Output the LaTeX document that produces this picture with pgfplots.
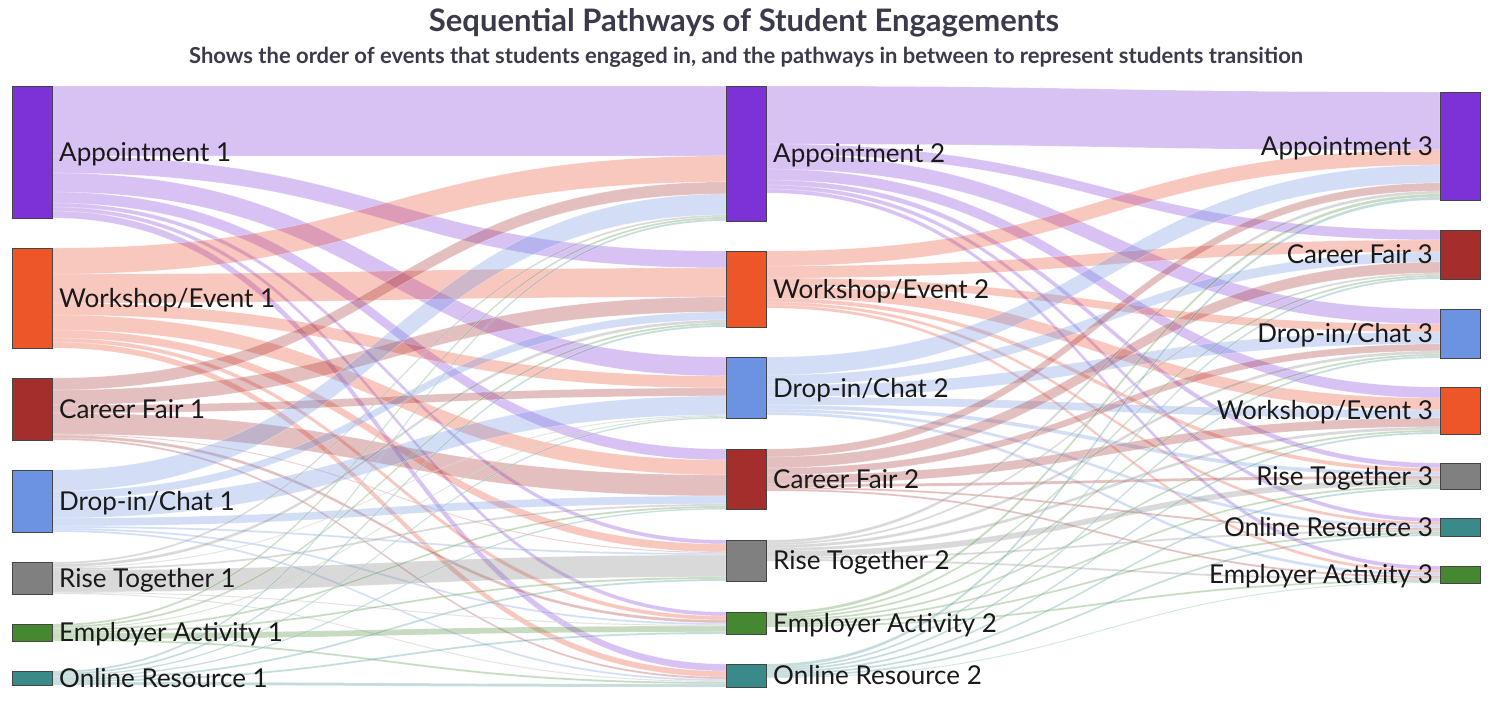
\documentclass[border=0pt]{standalone}
\usepackage{pgfplots}
\pgfplotsset{compat=1.18}
\usepackage{pgfplotstable}
\usepackage{fontspec}
\setmainfont{Lato}
\definecolor{appt}{HTML}{7D32D8}
\definecolor{work}{HTML}{EC5628}
\definecolor{worklink}{HTML}{E84428}
\definecolor{career}{HTML}{A32E2B}
\definecolor{dropin}{HTML}{6C93E2}
\definecolor{rise}{HTML}{808080}
\definecolor{employer}{HTML}{468832}
\definecolor{online}{HTML}{3A8A8A}
\definecolor{nodeline}{HTML}{444444}
\definecolor{titlecol}{HTML}{3A3A4A}

% ---- plot handler: groups of 4 points -> sankey band (horizontal-tangent beziers)
\makeatletter
\def\pgfplothandlersankey{%
  \def\pgf@plotstreamstart{%
    \global\let\pgf@plotstreampoint=\sk@pA
    \global\let\pgf@plotstreamspecial=\pgfutil@gobble
    \global\let\pgf@plotstreamend=\relax
  }%
}
\def\sk@pA#1{%
  \pgf@process{#1}%
  \xdef\sk@ax{\the\pgf@x}\xdef\sk@ay{\the\pgf@y}%
  \pgfpathmoveto{\pgfqpoint{\sk@ax}{\sk@ay}}%
  \global\let\pgf@plotstreampoint=\sk@pB}
\def\sk@pB#1{%
  \pgf@process{#1}%
  \xdef\sk@bx{\the\pgf@x}\xdef\sk@by{\the\pgf@y}%
  \pgf@xa=\sk@ax\relax\advance\pgf@xa by\sk@bx\relax\pgf@xa=0.5\pgf@xa
  \xdef\sk@mx{\the\pgf@xa}%
  \pgfpathcurveto{\pgfqpoint{\sk@mx}{\sk@ay}}{\pgfqpoint{\sk@mx}{\sk@by}}{\pgfqpoint{\sk@bx}{\sk@by}}%
  \global\let\pgf@plotstreampoint=\sk@pC}
\def\sk@pC#1{%
  \pgf@process{#1}%
  \xdef\sk@cy{\the\pgf@y}%
  \pgfpathlineto{\pgfqpoint{\sk@bx}{\sk@cy}}%
  \global\let\pgf@plotstreampoint=\sk@pD}
\def\sk@pD#1{%
  \pgf@process{#1}%
  \xdef\sk@dy{\the\pgf@y}%
  \pgfpathcurveto{\pgfqpoint{\sk@mx}{\sk@cy}}{\pgfqpoint{\sk@mx}{\sk@dy}}{\pgfqpoint{\sk@ax}{\sk@dy}}%
  \pgfpathclose
  \global\let\pgf@plotstreampoint=\sk@pA}
\tikzset{sankey/.code={\let\tikz@plot@handler=\pgfplothandlersankey}}
\makeatother

% ---- flows, stage 1: rows Appointment1, Workshop1, CareerFair1, Drop-in1, Rise1, Employer1, Online1
%      columns Appointment2, Workshop2, Drop-in2, CareerFair2, Rise2, Employer2, Online2
\pgfplotstableread{
v0 v1 v2 v3 v4 v5 v6
70 17 19 11 4 4 7
26 29 12 15 8 4 6
12 15 8 21 1 3 2
21 8 19 8 2 2 2
2 3 1 2 22 1 1
2 2 1 2 2 6 2
2 2 1.5 1.5 2 2 3
}\stageone
% ---- flows, stage 2: rows Appointment2, Workshop2, Drop-in2, CareerFair2, Rise2, Employer2, Online2
%      columns Appointment3, CareerFair3, Drop-in3, Workshop3, Rise3, Online3, Employer3
\pgfplotstableread{
v0 v1 v2 v3 v4 v5 v6
58 10 15 11 5 4 4
15 12 8 12 4 3 3
18 10 12 8 4 3 3
8 11 7 9 3 2 2
3 2 3 3 6 2 2
3 2 2 2 2 2 2
3 2 2 2 2 2 1
}\stagetwo
\def\lefttops{{86,248,378,470,562,624,671}}
\def\midtops{{86,251,357,449,540,612,664}}
\def\righttops{{92,230,309,387,463,518,566}}

% stacks the links of one stage into 4-point groups, one list per source node
\newcommand\buildlinks[6]{%
  \foreach \j in {0,...,6}{\pgfmathsetmacro\skT{#3[\j]}\expandafter\xdef\csname sktg\j\endcsname{\skT}}%
  \foreach \i in {0,...,6}{%
    \pgfmathsetmacro\skS{#2[\i]}\xdef\skSO{\skS}%
    \expandafter\xdef\csname #6\i\endcsname{}%
    \foreach \j in {0,...,6}{%
      \pgfplotstablegetelem{\i}{v\j}\of#1%
      \let\skV\pgfplotsretval
      \edef\skTY{\csname sktg\j\endcsname}%
      \pgfmathsetmacro\skSB{\skSO+\skV}%
      \pgfmathsetmacro\skTB{\skTY+\skV}%
      \expandafter\xdef\csname #6\i\endcsname{\csname #6\i\endcsname (#4,\skSO) (#5,\skTY) (#5,\skTB) (#4,\skSB)}%
      \xdef\skSO{\skSB}%
      \expandafter\xdef\csname sktg\j\endcsname{\skTB}%
    }%
  }%
}
\newcommand\linkplot[2]{\edef\skTmp{\noexpand\addplot[sankey, draw=white, draw opacity=0.35, line width=0.6pt, fill=#1, fill opacity=0.3, forget plot] coordinates {\csname #2\endcsname};}\skTmp}
\newcommand\nodebox[5]{\addplot[fill=#1, draw=nodeline, line width=0.8pt, forget plot] coordinates {(#2,#4) (#3,#4) (#3,#5) (#2,#5) (#2,#4)};}
\newcommand\lblfont{\fontsize{26}{30}\selectfont}
\tikzset{lbl/.style={font=\lblfont, inner sep=0pt, text=black!90}}
\newcommand\lab[4]{\node[lbl,anchor=base #1] at ([yshift=-9.3pt]axis cs:#2,#3){#4};}

\begin{document}
\begin{tikzpicture}
\useasboundingbox (0,0) rectangle (1488pt,702pt);
\buildlinks{\stageone}{\lefttops}{\midtops}{52}{726}{SA}%
\buildlinks{\stagetwo}{\midtops}{\righttops}{766}{1440}{SB}%
\begin{axis}[
  width=1488pt, height=702pt, scale only axis,
  xmin=0, xmax=1488, ymin=0, ymax=702, y dir=reverse,
  hide axis, clip=false,
]
% links stage 1
\linkplot{appt}{SA0}
\linkplot{worklink}{SA1}
\linkplot{career}{SA2}
\linkplot{dropin}{SA3}
\linkplot{rise}{SA4}
\linkplot{employer}{SA5}
\linkplot{online}{SA6}
% links stage 2
\linkplot{appt}{SB0}
\linkplot{worklink}{SB1}
\linkplot{dropin}{SB2}
\linkplot{career}{SB3}
\linkplot{rise}{SB4}
\linkplot{employer}{SB5}
\linkplot{online}{SB6}
% nodes
\nodebox{appt}{12}{52}{86}{218}
\nodebox{work}{12}{52}{248}{348}
\nodebox{career}{12}{52}{378}{440}
\nodebox{dropin}{12}{52}{470}{532}
\nodebox{rise}{12}{52}{562}{594}
\nodebox{employer}{12}{52}{624}{641}
\nodebox{online}{12}{52}{671}{685}
\nodebox{appt}{726}{766}{86}{221}
\nodebox{work}{726}{766}{251}{327}
\nodebox{dropin}{726}{766}{357}{418.5}
\nodebox{career}{726}{766}{449}{509.5}
\nodebox{rise}{726}{766}{540}{581}
\nodebox{employer}{726}{766}{612}{634}
\nodebox{online}{726}{766}{664}{687}
\nodebox{appt}{1440}{1480}{92}{200}
\nodebox{career}{1440}{1480}{230}{279}
\nodebox{dropin}{1440}{1480}{309}{358}
\nodebox{work}{1440}{1480}{387}{434}
\nodebox{rise}{1440}{1480}{463}{489}
\nodebox{online}{1440}{1480}{518}{536}
\nodebox{employer}{1440}{1480}{566}{583}
% labels
\lab{west}{59}{152}{Appointment 1}
\lab{west}{59}{298}{Workshop/Event 1}
\lab{west}{59}{409}{Career Fair 1}
\lab{west}{59}{501}{Drop-in/Chat 1}
\lab{west}{59}{578}{Rise Together 1}
\lab{west}{59}{632.5}{Employer Activity 1}
\lab{west}{59}{678}{Online Resource 1}
\lab{west}{773}{153.5}{Appointment 2}
\lab{west}{773}{289}{Workshop/Event 2}
\lab{west}{773}{388}{Drop-in/Chat 2}
\lab{west}{773}{479}{Career Fair 2}
\lab{west}{773}{560.5}{Rise Together 2}
\lab{west}{773}{623}{Employer Activity 2}
\lab{west}{773}{675.5}{Online Resource 2}
\lab{east}{1433}{146}{Appointment 3}
\lab{east}{1433}{254.5}{Career Fair 3}
\lab{east}{1433}{333.5}{Drop-in/Chat 3}
\lab{east}{1433}{410.5}{Workshop/Event 3}
\lab{east}{1433}{476}{Rise Together 3}
\lab{east}{1433}{527}{Online Resource 3}
\lab{east}{1433}{574.5}{Employer Activity 3}
% titles
\node[font=\fontsize{31}{36}\selectfont\bfseries, text=titlecol, inner sep=0pt] at (axis cs:744,23) {Sequential Pathways of Student Engagements};
\node[font=\fontsize{22}{26}\selectfont\bfseries, text=titlecol, inner sep=0pt] at (axis cs:746,57) {Shows the order of events that students engaged in, and the pathways in between to represent students transition};
\end{axis}
\end{tikzpicture}
\end{document}
